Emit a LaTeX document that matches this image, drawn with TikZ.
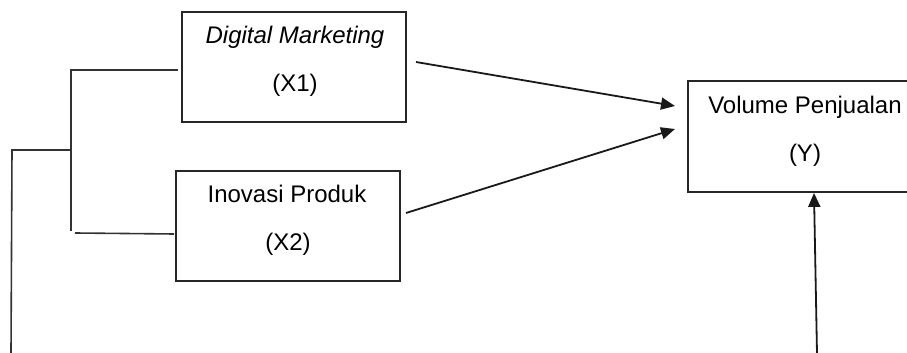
\documentclass[tikz,border=0pt]{standalone}
\usepackage{fontspec}
\setmainfont{Liberation Sans}
\usetikzlibrary{arrows.meta}
\begin{document}
\begin{tikzpicture}[x=0.5pt,y=-0.5pt,
  varbox/.style={draw=black!85,line width=0.9pt,rectangle,inner sep=0pt},
  lbl/.style={anchor=base,inner sep=0pt,font=\fontsize{12}{14}\selectfont},
  conn/.style={draw=black!80,line width=0.8pt},
  arr/.style={draw=black!90,line width=0.9pt,-{Triangle[length=7pt,width=6pt]}}]
\useasboundingbox (0,0) rectangle (907,353);
\clip (0,0) rectangle (907,353);
% boxes
\node[varbox,minimum width=112pt,minimum height=55pt] (x1) at (294,67) {};
\node[varbox,minimum width=112pt,minimum height=55pt] (x2) at (288,226) {};
\node[varbox,minimum width=117pt,minimum height=55.5pt] (y) at (805,136.5) {};
% labels
\node[lbl] (x1a) at (295,44) {\itshape Digital Marketing};
\node[lbl] (x1b) at (295,92) {(X1)};
\node[lbl] (x2a) at (287,203) {Inovasi Produk};
\node[lbl] (x2b) at (288,251) {(X2)};
\node[lbl] (ya) at (805,114) {Volume Penjualan};
\node[lbl] (yb) at (805,162) {(Y)};
% connector points
\coordinate (a1s) at (416,62);
\coordinate (a1e) at (675,106);
\coordinate (a2s) at (406,213);
\coordinate (a2e) at (675,129);
\coordinate (a3s) at (817,353);
\coordinate (b1) at (178,70);
\coordinate (b1c) at (71,70);
\coordinate (b2c) at (71,231);
\coordinate (b3) at (75,233);
\coordinate (b3e) at (174,234);
\coordinate (bm) at (71,150);
\coordinate (bl) at (12,150);
\coordinate (bb) at (11,353);
% arrows
\draw[arr] (a1s) -- (a1e);
\draw[arr] (a2s) -- (a2e);
\draw[arr] (a3s) -- (y.south -| 814,0);
% bracket
\draw[conn] (b1) -- (b1c) -- (b2c);
\draw[conn] (b3) -- (b3e);
\draw[conn] (bm) -- (bl) -- (bb);
\end{tikzpicture}
\end{document}
